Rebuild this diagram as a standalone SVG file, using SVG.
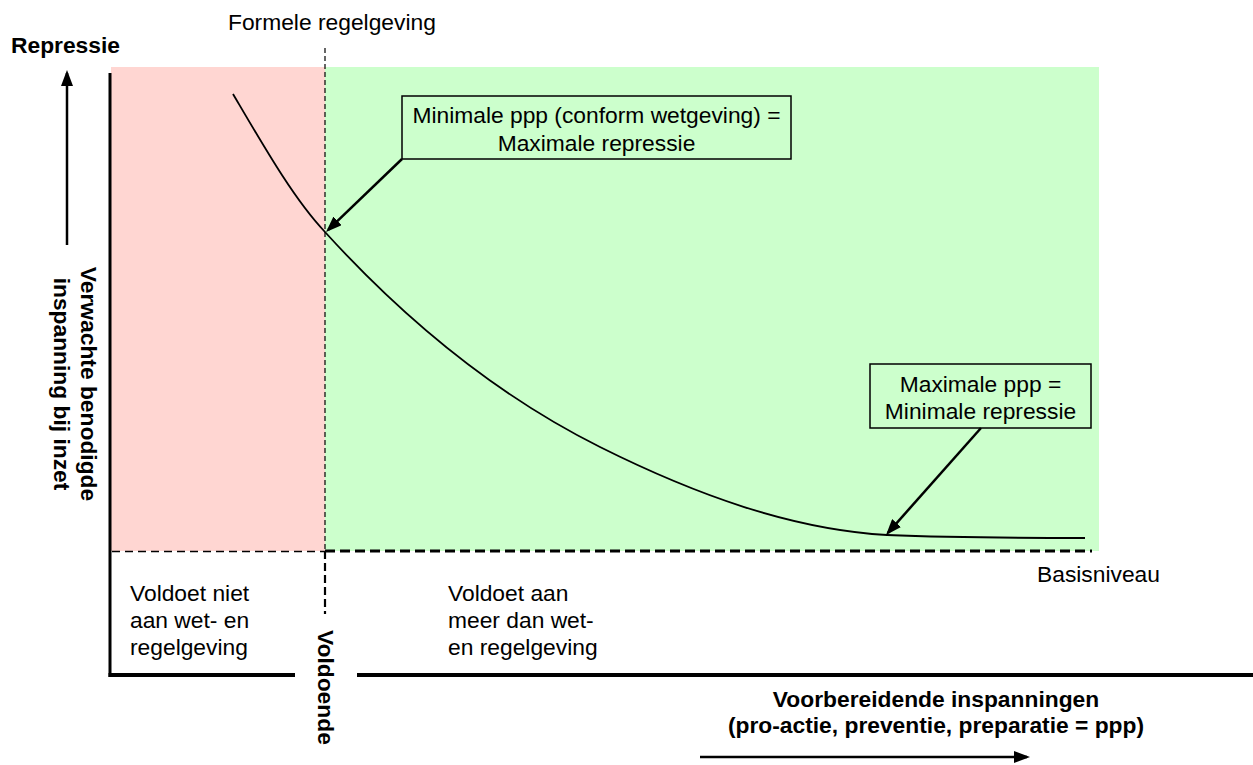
<svg xmlns="http://www.w3.org/2000/svg" width="1253" height="765" viewBox="0 0 1253 765">
<style>
text{font-family:"Liberation Sans",Arial,Helvetica,sans-serif;font-size:22.8px;fill:#000}
.b{font-weight:bold}
.m{text-anchor:middle}
.box{fill:none;stroke:#000;stroke-width:1.5}
.arr{fill:none;stroke:#000;stroke-width:2.5}
</style>
<defs>
<marker id="ah" markerUnits="userSpaceOnUse" viewBox="0 0 16 12" refX="13" refY="6" markerWidth="16" markerHeight="12" orient="auto">
<path d="M0,0 L16,6 L0,12 Z" fill="#000"/>
</marker>
</defs>
<rect width="1253" height="765" fill="#fff"/>
<g id="zones">
<rect x="111" y="67" width="214" height="484" fill="#FFD6D2"/>
<rect x="325" y="67" width="774" height="484" fill="#CCFFCC"/>
</g>
<g id="axes">
<line x1="110" y1="73" x2="110" y2="677" stroke="#000" stroke-width="3"/>
<line x1="108.5" y1="675" x2="295" y2="675" stroke="#000" stroke-width="4"/>
<line x1="357" y1="675" x2="1253" y2="675" stroke="#000" stroke-width="4"/>
<line x1="325" y1="48" x2="325" y2="551" stroke="#000" stroke-width="1.2" stroke-dasharray="5,3"/>
<line x1="325" y1="551" x2="325" y2="614" stroke="#000" stroke-width="2.2" stroke-dasharray="8,4"/>
<line x1="112" y1="551.5" x2="325" y2="551.5" stroke="#000" stroke-width="1.5" stroke-dasharray="8,5"/>
<line x1="325" y1="551" x2="1092" y2="551" stroke="#000" stroke-width="3" stroke-dasharray="10,5"/>
</g>
<g id="curve">
<path fill="none" stroke="#000" stroke-width="1.8" d="M233,94 C263.7,146.2 294.3,199.8 325,232 C416.7,332.8 508.3,401.2 600,447 C695.7,494.8 791.3,529.3 887,535 C953,537.6 1019,538 1085,538"/>
</g>
<g id="labels">
<text x="228" y="30">Formele regelgeving</text>
<text class="b" x="11" y="53">Repressie</text>
<g transform="translate(81,384) rotate(90)">
<text class="b m" x="0" y="0">Verwachte benodigde</text>
<text class="b m" x="0" y="27">inspanning bij inzet</text>
</g>
<text class="b" transform="translate(318,630) rotate(90)">Voldoende</text>
<text x="130" y="601">Voldoet niet</text>
<text x="130" y="628">aan wet- en</text>
<text x="130" y="655">regelgeving</text>
<text x="448" y="601">Voldoet aan</text>
<text x="448" y="628">meer dan wet-</text>
<text x="448" y="655">en regelgeving</text>
<text x="1037" y="582">Basisniveau</text>
<text class="b m" x="936" y="707">Voorbereidende inspanningen</text>
<text class="b m" x="936" y="733">(pro-actie, preventie, preparatie = ppp)</text>
</g>
<g id="box-minimale">
<rect class="box" x="402" y="96" width="389" height="63" fill="#CCFFCC"/>
<text class="m" x="596.5" y="123">Minimale ppp (conform wetgeving) =</text>
<text class="m" x="596.5" y="151">Maximale repressie</text>
</g>
<g id="box-maximale">
<rect class="box" x="870" y="364" width="221" height="64" fill="#CCFFCC"/>
<text class="m" x="980.5" y="392">Maximale ppp =</text>
<text class="m" x="980.5" y="419">Minimale repressie</text>
</g>
<g id="connectors">
<line class="arr" x1="402" y1="159" x2="328.2" y2="229.9" marker-end="url(#ah)"/>
<line class="arr" x1="981" y1="428" x2="888" y2="532.8" marker-end="url(#ah)"/>
<line class="arr" x1="67" y1="245" x2="67" y2="73" marker-end="url(#ah)"/>
<line class="arr" x1="700" y1="757" x2="1027" y2="757" marker-end="url(#ah)"/>
</g>
</svg>
